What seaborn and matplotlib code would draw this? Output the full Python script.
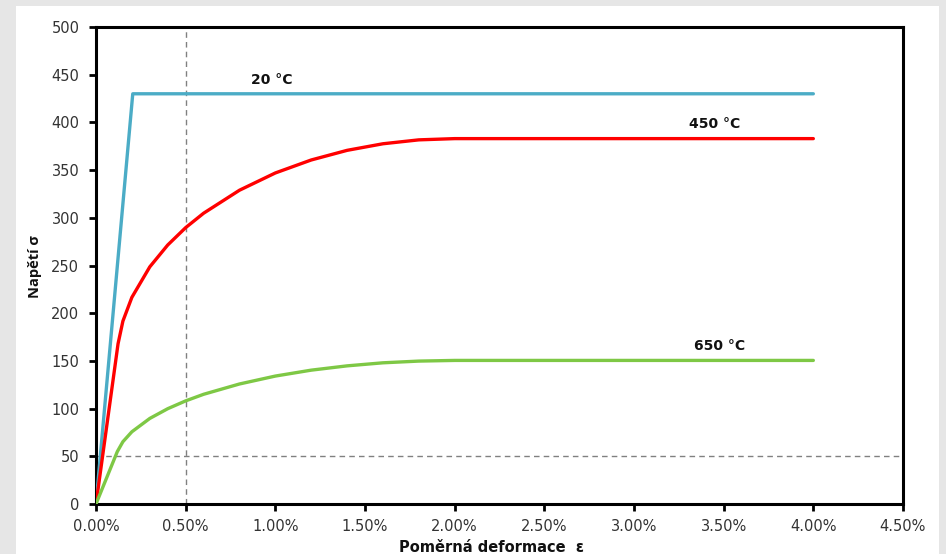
import matplotlib
matplotlib.use("Agg")
import matplotlib.pyplot as plt
from matplotlib.patches import Rectangle
from matplotlib.ticker import FuncFormatter, MultipleLocator
import numpy as np
import pandas as pd
import seaborn as sns

# Strain in percent, stress in MPa
strain_20 = [0.0, 0.205, 4.0]
stress_20 = [0.0, 430.0, 430.0]

strain_450 = [0.0, 0.123, 0.15, 0.2, 0.3, 0.4, 0.5, 0.6, 0.8, 1.0, 1.2, 1.4, 1.6, 1.8, 2.0, 4.0]
stress_450 = [0.0, 168.0, 191.7, 216.6, 248.6, 271.5, 289.7, 304.8, 328.9, 347.0, 360.6, 370.7, 377.6, 381.7, 383.0, 383.0]

strain_650 = [0.0, 0.119, 0.15, 0.2, 0.3, 0.4, 0.5, 0.6, 0.8, 1.0, 1.2, 1.4, 1.6, 1.8, 2.0, 4.0]
stress_650 = [0.0, 55.0, 65.3, 75.7, 89.7, 99.9, 108.1, 115.0, 125.8, 134.1, 140.3, 144.8, 148.0, 149.8, 150.5, 150.5]

labels = ["20 °C", "450 °C", "650 °C"]
colors = ["#4bacc6", "#ff0000", "#7ec845"]
label_pos = [(0.98, 444), (3.45, 398.5), (3.478, 166)]

frames = []
for lab, xs, ys in zip(labels, [strain_20, strain_450, strain_650],
                       [stress_20, stress_450, stress_650]):
    frames.append(pd.DataFrame({"strain": xs, "stress": ys, "temp": lab}))
df = pd.concat(frames, ignore_index=True)

sns.set_style("ticks")
plt.rcParams["font.family"] = ["DejaVu Sans"]

fig = plt.figure(figsize=(9.46, 5.54), dpi=100, facecolor="#e6e6e6")
fig.add_artist(Rectangle((16 / 946, 0), (939 - 16) / 946, 1 - 6 / 554,
                         transform=fig.transFigure, facecolor="white",
                         edgecolor="none", zorder=-10))
ax = fig.add_axes([96 / 946, 1 - 504 / 554, (903 - 96) / 946, (504 - 27) / 554])
ax.set_zorder(5)

ax.axvline(0.5, color="#808080", lw=1.0, ls=(0, (4, 3)), zorder=1)
ax.axhline(50, color="#808080", lw=1.0, ls=(0, (4, 3)), zorder=1)

sns.lineplot(data=df, x="strain", y="stress", hue="temp", palette=colors,
             hue_order=labels, sort=False, estimator=None, lw=2.4,
             legend=False, ax=ax, zorder=3)

for lab, (tx, ty) in zip(labels, label_pos):
    ax.text(tx, ty, lab, fontsize=10, fontweight="bold", ha="center",
            va="center", color="#111111")

ax.set_xlim(0, 4.5)
ax.set_ylim(0, 500)
ax.xaxis.set_major_locator(MultipleLocator(0.5))
ax.yaxis.set_major_locator(MultipleLocator(50))
ax.xaxis.set_major_formatter(FuncFormatter(lambda v, p: f"{v:.2f}%"))

for s in ax.spines.values():
    s.set_linewidth(2.2)
    s.set_color("black")
    s.set_visible(True)
ax.tick_params(axis="both", direction="out", length=5, width=2,
               labelsize=10.5, colors="black", labelcolor="#333333")
ax.tick_params(axis="y", pad=7)
ax.tick_params(axis="x", pad=6)

ax.set_xlabel("Poměrná deformace  ε", fontsize=10.5, fontweight="bold",
              color="#111111")
ax.xaxis.set_label_coords((491.5 - 96) / (903 - 96), -(547 - 504) / (504 - 27))
ax.xaxis.label.set_va("center")
ax.set_ylabel("Napětí σ", fontsize=10.5, fontweight="bold",
              family=["Open Sans", "DejaVu Sans"], color="#111111")
ax.yaxis.set_label_coords(-(96 - 34.5) / (903 - 96), (504 - 267) / (504 - 27))
ax.yaxis.label.set_va("center")

fig.savefig("out.png", dpi=100, facecolor=fig.get_facecolor())
